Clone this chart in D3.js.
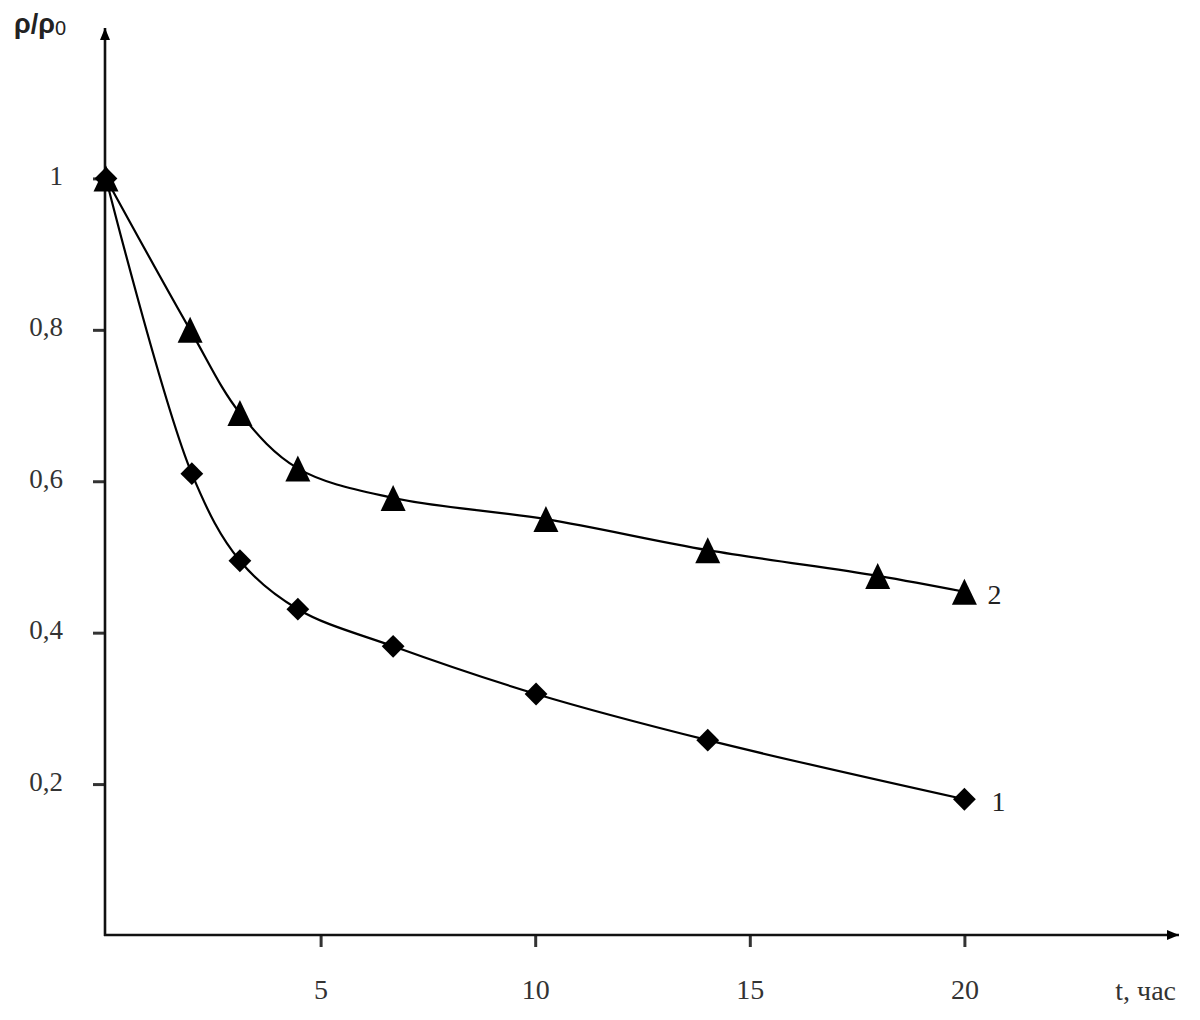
<!DOCTYPE html>
<html>
<head>
<meta charset="utf-8">
<script src="https://cdn.jsdelivr.net/npm/d3@7"></script>
<style>
  html, body { margin: 0; padding: 0; background: #fff; }
  svg { display: block; }
</style>
</head>
<body>
<svg id="chart" width="1200" height="1020"></svg>
<script>
// ---- data ----
const series1T = [0, 2.0, 3.12, 4.47, 6.69, 10.02, 14.02, 20.0];
const series1Y = [1.0, 0.61, 0.495, 0.431, 0.382, 0.319, 0.258, 0.18];
const series2T = [0, 1.96, 3.12, 4.47, 6.69, 10.25, 14.02, 17.98, 20.0];
const series2Y = [1.0, 0.80, 0.69, 0.617, 0.578, 0.55, 0.509, 0.475, 0.454];
const xTicks = [5, 10, 15, 20];
const yTicks = [0.2, 0.4, 0.6, 0.8, 1];
const xTitle = "t, час";
const seriesNames = ["1", "2"];

// ---- layout ----
const svg = d3.select("#chart");
const x = d3.scaleLinear().domain([0, 25]).range([106, 1179]);
const y = d3.scaleLinear().domain([0, 1.2]).range([935.5, 27]);
const x0 = 105, yBase = 935;
const serif = "'Liberation Serif', 'Times New Roman', serif";

const fmtY = d => d === 1 ? "1" : d.toFixed(1).replace(".", ",");

// arrow markers
const defs = svg.append("defs");
defs.append("marker").attr("id", "arr").attr("viewBox", "0 0 12 10")
  .attr("refX", 12).attr("refY", 5).attr("markerWidth", 12).attr("markerHeight", 10)
  .attr("markerUnits", "userSpaceOnUse").attr("orient", "auto")
  .append("path").attr("d", "M0,0 L12,5 L0,10 Z").attr("fill", "#000");

// x axis
const xAxis = d3.axisBottom(x).tickValues(xTicks).tickSize(12).tickPadding(32)
  .tickFormat(d3.format("d"));
const gx = svg.append("g").attr("transform", `translate(0,${yBase})`).call(xAxis);
gx.select(".domain").remove();
gx.selectAll(".tick line").attr("stroke", "#333").attr("stroke-width", 3);
gx.selectAll(".tick text").attr("font-family", serif)
  .attr("font-size", 28).attr("fill", "#333");

// y axis
const yAxis = d3.axisLeft(y).tickValues(yTicks).tickSize(12).tickPadding(30).tickFormat(fmtY);
const gy = svg.append("g").attr("transform", `translate(${x0},0)`).call(yAxis);
gy.select(".domain").remove();
gy.selectAll(".tick line").attr("stroke", "#333").attr("stroke-width", 3);
gy.selectAll(".tick text").attr("font-family", serif)
  .attr("font-size", 27).attr("fill", "#333").attr("dy", "0.22em");

// axis lines with arrows
svg.append("line").attr("x1", x0 - 1).attr("y1", yBase).attr("x2", x(25)).attr("y2", yBase)
  .attr("stroke", "#111").attr("stroke-width", 2.6).attr("marker-end", "url(#arr)");
svg.append("line").attr("x1", x0).attr("y1", yBase + 1).attr("x2", x0).attr("y2", y(1.2) + 1)
  .attr("stroke", "#111").attr("stroke-width", 2.6).attr("marker-end", "url(#arr)");

// axis titles
svg.append("text").attr("x", x(25) - 3).attr("y", 1000).attr("text-anchor", "end")
  .attr("font-family", serif).attr("font-size", 28)
  .attr("fill", "#333").text(xTitle);
const yt = svg.append("text").attr("x", 14).attr("y", 33)
  .attr("font-family", "'Liberation Sans', Arial, sans-serif").attr("font-size", 27)
  .attr("fill", "#222");
yt.append("tspan").attr("font-weight", "bold").text("ρ/ρ");
yt.append("tspan").attr("font-size", 20).attr("dy", 2).text("0");

// curves
const line = d3.line().x(d => x(d[0])).y(d => y(d[1])).curve(d3.curveCatmullRom.alpha(0.5));
const s1 = series1T.map((t, i) => [t, series1Y[i]]);
const s2 = series2T.map((t, i) => [t, series2Y[i]]);
[s1, s2].forEach(s => {
  svg.append("path").datum(s).attr("d", line).attr("fill", "none")
    .attr("stroke", "#000").attr("stroke-width", 2.2);
});

// markers
const diamond = d3.symbol().type(d3.symbolSquare).size(260);
svg.append("g").selectAll("path").data(s1).join("path")
  .attr("d", diamond)
  .attr("transform", d => `translate(${x(d[0])},${y(d[1])}) rotate(45)`)
  .attr("fill", "#000");
svg.append("g").selectAll("path").data(s2).join("path")
  .attr("d", "M0,-13 L12.5,13 L-12.5,13 Z")
  .attr("transform", d => `translate(${x(d[0])},${y(d[1])})`)
  .attr("fill", "#000");

// series labels
svg.append("text").attr("x", x(s1[s1.length - 1][0]) + 27).attr("y", y(s1[s1.length - 1][1]) + 12)
  .attr("font-family", serif).attr("font-size", 28).attr("fill", "#222").text(seriesNames[0]);
svg.append("text").attr("x", x(s2[s2.length - 1][0]) + 23).attr("y", y(s2[s2.length - 1][1]) + 12)
  .attr("font-family", serif).attr("font-size", 28).attr("fill", "#222").text(seriesNames[1]);
</script>
</body>
</html>
